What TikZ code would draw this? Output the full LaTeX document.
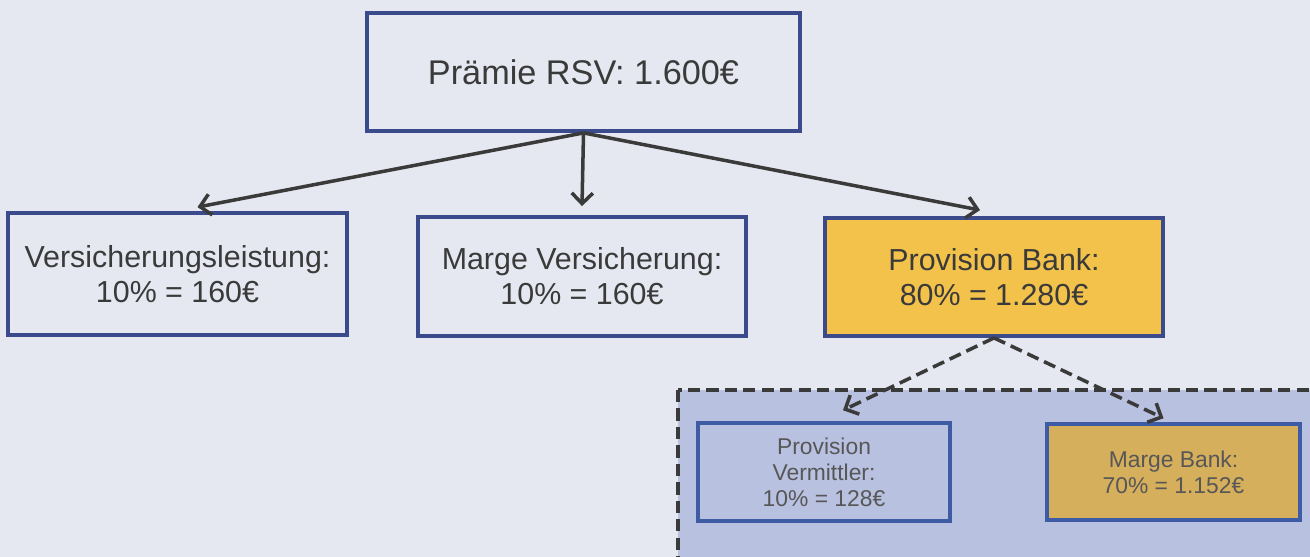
\documentclass[tikz,border=0pt]{standalone}
\usepackage{fontspec}
\setmainfont{Liberation Sans}
\usepackage{xcolor}
\usetikzlibrary{arrows.meta,positioning,calc}

\definecolor{paper}{HTML}{E5E8F0}
\definecolor{navy}{HTML}{3B4A8A}
\definecolor{boxblue}{HTML}{3E5BA6}
\definecolor{gold}{HTML}{F3C24B}
\definecolor{darkgold}{HTML}{D6AF5C}
\definecolor{lilac}{HTML}{B9C1E1}
\definecolor{ink}{HTML}{3A3A3A}

\tikzset{
  bigbox/.style={draw=navy,line width=2.2pt,align=center,font=\fontsize{17.3}{20}\selectfont,text=ink},
  smallbox/.style={draw=boxblue,line width=2pt,fill=lilac,align=center,font=\fontsize{13}{14.8}\selectfont,text=ink!85},
  flow/.style={draw=ink,line width=2pt,-{Straight Barb[length=6pt,width=12pt,line width=2pt]}},
  subflow/.style={flow,dash pattern=on 7pt off 3.5pt}
}

\begin{document}
\begin{tikzpicture}[x=0.02cm,y=-0.02cm]
    % background and frame
    \fill[paper] (0,0) rectangle (1310,557);
    \useasboundingbox (0,0) rectangle (1310,557);
    \clip (0,0) rectangle (1310,557);
    % dashed region round the split of the bank
    \draw[fill=lilac,draw=ink,line width=2.3pt,dash pattern=on 7pt off 3.5pt] (678,390) rectangle (1325,575);
    % premium and its three parts
    \node[bigbox,font=\fontsize{19.5}{22}\selectfont,minimum width=8.66cm,minimum height=2.36cm] (praemie) at (583.5,72) {Prämie RSV: 1.600€};
    \node[bigbox,minimum width=6.78cm,minimum height=2.44cm] (leistung) at (177.5,274) {Versicherungsleistung:\\10\% = 160€};
    \node[bigbox,minimum width=6.56cm,minimum height=2.38cm] (marge) at (582,276.5) {Marge Versicherung:\\10\% = 160€};
    \node[bigbox,fill=gold,minimum width=6.76cm,minimum height=2.36cm] (provbank) at (994,277) {Provision Bank:\\80\% = 1.280€};
    % split of the bank commission
    \node[smallbox,minimum width=5.04cm,minimum height=1.96cm] (vermittler) at (824,472) {Provision\\Vermittler:\\10\% = 128€};
    \node[smallbox,fill=darkgold,minimum width=5.06cm,minimum height=1.92cm] (margebank) at (1173.5,472) {Marge Bank:\\70\% = 1.152€};
    % arrows
    \draw[flow] (praemie.south) -- ($(leistung.north)+(20,-4)$);
    \draw[flow] (praemie.south) -- ($(marge.north)+(0,-9)$);
    \draw[flow] (praemie.south) -- ($(provbank.north)+(-14,-6)$);
    \draw[subflow] (provbank.south) -- ($(vermittler.north)+(19,-11)$);
    \draw[subflow] (provbank.south) -- ($(margebank.north)+(-10,-4)$);
\end{tikzpicture}
\end{document}
